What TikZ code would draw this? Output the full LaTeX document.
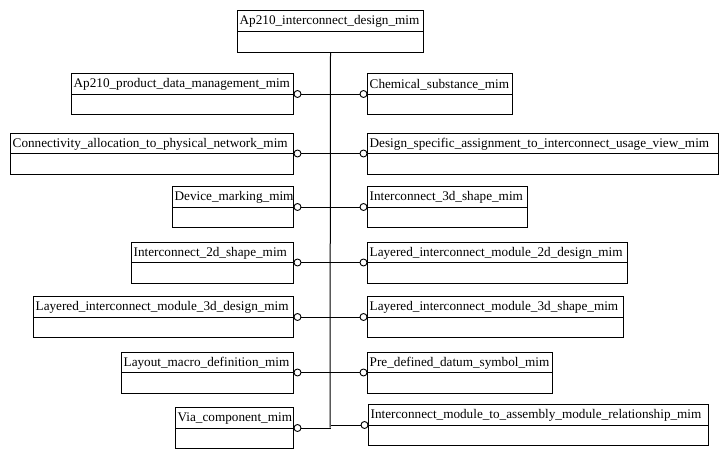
\documentclass[tikz,border=0pt]{standalone}
\usepackage{fontspec}
\newfontfamily\titlefont{Liberation Serif}
\usetikzlibrary{calc}
\begin{document}
\begin{tikzpicture}[x=1pt,y=-1pt,
  box/.style={draw, line width=1pt, rectangle, anchor=north west, inner sep=0pt, minimum height=41pt},
  title/.style={anchor=west, inner sep=0pt, xshift=2.5pt, yshift=-1pt, font=\titlefont\fontsize{13.2}{15}\selectfont},
  ring/.style={circle, draw, line width=0.9pt, fill=white, minimum size=7pt, inner sep=0pt},
  link/.style={line width=1pt}]
\useasboundingbox (0,0) rectangle (728,458);
% top box
\node[box, minimum width=186pt, minimum height=42pt] (top) at (237,10) {};
\draw[link] (top.west) -- (top.east);
\node[title] (ttop) at ($(top.north west)!0.5!(top.west)$) {Ap210\_interconnect\_design\_mim};
\coordinate (spineend) at (330,427.5);
\draw[link] (top.south) -- (spineend);
% left boxes
\node[box, minimum width=222pt] (l1) at (71,73) {};
\node[box, minimum width=283pt] (l2) at (10,132.5) {};
\node[box, minimum width=121pt] (l3) at (172,186) {};
\node[box, minimum width=162pt] (l4) at (131,241.5) {};
\node[box, minimum width=260pt] (l5) at (33,296) {};
\node[box, minimum width=172pt] (l6) at (121,351.5) {};
\node[box, minimum width=118pt] (l7) at (175,407) {};
\node[title] (tl1) at ($(l1.north west)!0.5!(l1.west)$) {Ap210\_product\_data\_management\_mim};
\node[title] (tl2) at ($(l2.north west)!0.5!(l2.west)$) {Connectivity\_allocation\_to\_physical\_network\_mim};
\node[title] (tl3) at ($(l3.north west)!0.5!(l3.west)$) {Device\_marking\_mim};
\node[title] (tl4) at ($(l4.north west)!0.5!(l4.west)$) {Interconnect\_2d\_shape\_mim};
\node[title] (tl5) at ($(l5.north west)!0.5!(l5.west)$) {Layered\_interconnect\_module\_3d\_design\_mim};
\node[title] (tl6) at ($(l6.north west)!0.5!(l6.west)$) {Layout\_macro\_definition\_mim};
\node[title] (tl7) at ($(l7.north west)!0.5!(l7.west)$) {Via\_component\_mim};
% right boxes
\node[box, minimum width=145pt] (r1) at (367,73) {};
\node[box, minimum width=351pt] (r2) at (367,132.5) {};
\node[box, minimum width=160pt] (r3) at (367,186) {};
\node[box, minimum width=260pt] (r4) at (367,241.5) {};
\node[box, minimum width=256pt] (r5) at (367,296) {};
\node[box, minimum width=184.5pt] (r6) at (367,351.5) {};
\node[box, minimum width=339.5pt] (r7) at (368,404) {};
\node[title] (tr1) at ($(r1.north west)!0.5!(r1.west)$) {Chemical\_substance\_mim};
\node[title] (tr2) at ($(r2.north west)!0.5!(r2.west)$) {Design\_specific\_assignment\_to\_interconnect\_usage\_view\_mim};
\node[title] (tr3) at ($(r3.north west)!0.5!(r3.west)$) {Interconnect\_3d\_shape\_mim};
\node[title] (tr4) at ($(r4.north west)!0.5!(r4.west)$) {Layered\_interconnect\_module\_2d\_design\_mim};
\node[title] (tr5) at ($(r5.north west)!0.5!(r5.west)$) {Layered\_interconnect\_module\_3d\_shape\_mim};
\node[title] (tr6) at ($(r6.north west)!0.5!(r6.west)$) {Pre\_defined\_datum\_symbol\_mim};
\node[title] (tr7) at ($(r7.north west)!0.5!(r7.west)$) {Interconnect\_module\_to\_assembly\_module\_relationship\_mim};
% dividers, rings and connectors
\foreach \b in {l1,l2,l3,l4,l5,l6,l7,r1,r2,r3,r4,r5,r6,r7} {
  \draw[link] (\b.west) -- (\b.east);
}
\foreach \b in {l1,l2,l3,l4,l5,l6,l7} {
  \node[ring] (c\b) at ([xshift=3.5pt]\b.east) {};
  \draw[link] (c\b) -- (c\b -| top.south);
}
\foreach \b in {r1,r2,r3,r4,r5,r6,r7} {
  \node[ring] (c\b) at ([xshift=-3.5pt]\b.west) {};
  \draw[link] (c\b) -- (c\b -| top.south);
}
\end{tikzpicture}
\end{document}
